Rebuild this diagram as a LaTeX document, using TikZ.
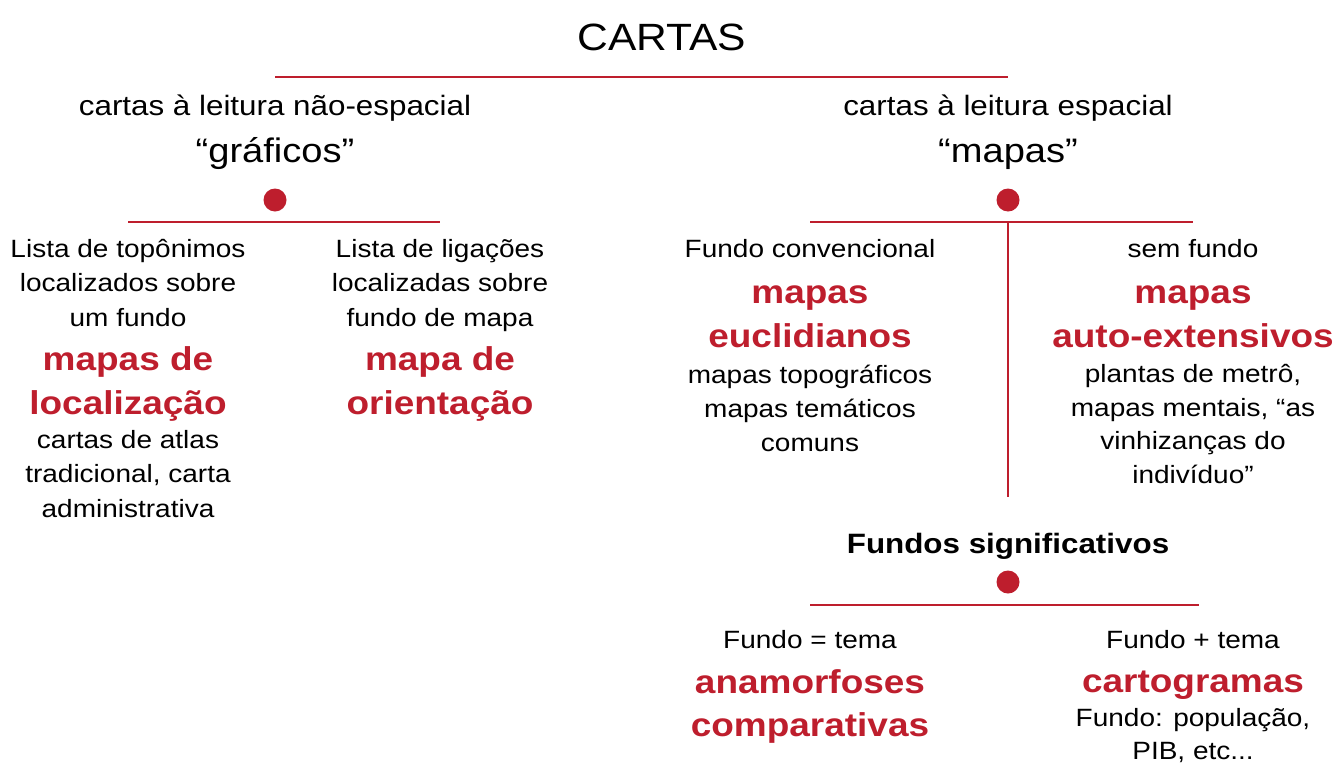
\documentclass[tikz,border=0pt]{standalone}
\usepackage{fontspec}
\setmainfont{Liberation Sans}[FakeStretch=1.12]
\usetikzlibrary{positioning}
\definecolor{cartred}{RGB}{190,30,45}
\tikzset{descstyle/.style = {align = center, anchor = base, inner sep = 0pt, font = \fontsize{25}{34.5}\selectfont},
	headstyle/.style = {align = center, anchor = base, inner sep = 0pt, font = \fontsize{28}{47}\selectfont},
	titlestyle/.style = {align = center, anchor = base, inner sep = 0pt, text = cartred, font = \fontsize{33}{44}\selectfont\bfseries},
	dotstyle/.style = {circle, fill = cartred, minimum size = 23pt, inner sep = 0pt},
	bar/.style = {draw = cartred, line width = 2.8pt}}
\newcommand{\quoteword}[1]{\fontsize{34}{47}\selectfont #1}

\begin{document}
\begin{tikzpicture}[x=1pt, y=-1pt]
 \useasboundingbox (0,0) rectangle (1340,763);

 \node (cartas) at (662,50) [anchor = base, inner sep = 0pt, font = \fontsize{38}{44}\selectfont] {CARTAS};
 \coordinate (topL) at (275,77);
 \coordinate (topR) at (1008,77);
 \draw [bar] (topL) -- (topR);

 % non-spatial branch (base = last line)
 \node (graficos) at (275,162) [headstyle] {cartas à leitura não-espacial\\\quoteword{“gráficos”}};
 \node (dotG) at (275,200) [dotstyle] {};
 \coordinate (barGL) at (128,222);
 \coordinate (barGR) at (440,222);
 \draw [bar] (barGL) -- (barGR);

 \node (topo) at (128,326) [descstyle] {Lista de topônimos\\localizados sobre\\um fundo};
 \node (loc) at (128,414) [titlestyle] {mapas de\\localização};
 \node (atlas) at (128,517) [descstyle] {cartas de atlas\\tradicional, carta\\administrativa};

 \node (lig) at (440,326) [descstyle] {Lista de ligações\\localizadas sobre\\fundo de mapa};
 \node (orient) at (440,414) [titlestyle] {mapa de\\orientação};

 % spatial branch
 \node (mapas) at (1008,162) [headstyle] {cartas à leitura espacial\\\quoteword{“mapas”}};
 \node (dotM) at (1008,200) [dotstyle] {};
 \coordinate (barML) at (810,222);
 \coordinate (barMR) at (1193,222);
 \coordinate (barMC) at (1008,222);
 \coordinate (stem) at (1008,497);
 \draw [bar] (barML) -- (barMR);
 \draw [bar] (barMC) -- (stem);

 \node (conv) at (810,257) [descstyle] {Fundo convencional};
 \node (eucl) at (810,347) [titlestyle] {mapas\\euclidianos};
 \node (topog) at (810,451) [descstyle, font = \fontsize{25}{34}\selectfont] {mapas topográficos\\mapas temáticos\\comuns};

 \node (semf) at (1193,257) [descstyle] {sem fundo};
 \node (auto) at (1193,347) [titlestyle] {mapas\\auto-extensivos};
 \node (metro) at (1193,483) [descstyle, font = \fontsize{25}{33.5}\selectfont] {plantas de metrô,\\mapas mentais, “as\\vinhizanças do\\indivíduo”};

 % significant backgrounds
 \node (sig) at (1008,553) [anchor = base, inner sep = 0pt, font = \fontsize{28}{34}\selectfont\bfseries] {Fundos significativos};
 \node (dotS) at (1008,582) [dotstyle] {};
 \coordinate (barSL) at (810,605);
 \coordinate (barSR) at (1199,605);
 \draw [bar] (barSL) -- (barSR);

 \node (igual) at (810,648) [descstyle] {Fundo = tema};
 \node (anam) at (810,736) [titlestyle, font = \fontsize{33}{43}\selectfont\bfseries] {anamorfoses\\comparativas};

 \node (mais) at (1193,648) [descstyle] {Fundo + tema};
 \node (cartog) at (1193,692) [titlestyle] {cartogramas};
 \node (pop) at (1193,759) [descstyle, font = \fontsize{25}{33}\selectfont] {Fundo: população,\\PIB, etc...};

\end{tikzpicture}
\end{document}
